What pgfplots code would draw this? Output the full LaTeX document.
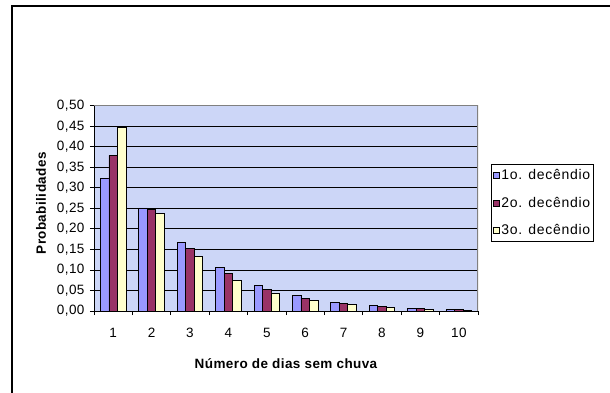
\documentclass[border=0pt]{standalone}
\usepackage{fontspec}
\setmainfont{Liberation Sans}
\usepackage{pgfplots}
\usepackage{pgfplotstable}
\pgfplotsset{compat=1.18}

\definecolor{serieA}{RGB}{153,153,255}
\definecolor{serieB}{RGB}{153,51,102}
\definecolor{serieC}{RGB}{255,255,204}
\definecolor{fundo}{RGB}{204,214,247}
\definecolor{moldura}{RGB}{128,128,128}

\newcommand\fonte{\fontsize{13.5}{16}\selectfont\addfontfeatures{LetterSpace=3}}
\newcommand\fontelegenda{\fontsize{14}{16}\selectfont\addfontfeatures{LetterSpace=5}}

% probabilidades por numero de dias sem chuva, para cada decendio
\pgfplotstableread{
dias  d1     d2     d3
1     0.322  0.379  0.446
2     0.251  0.248  0.237
3     0.168  0.152  0.133
4     0.107  0.091  0.075
5     0.063  0.053  0.044
6     0.038  0.031  0.025
7     0.021  0.019  0.015
8     0.013  0.010  0.009
9     0.007  0.006  0.004
10    0.003  0.003  0.002
}\dados

\begin{document}
\begin{tikzpicture}
\path[fill=white] (0pt,0pt) rectangle (610pt,392pt);
\useasboundingbox (0pt,0pt) rectangle (610pt,392pt);
% moldura da area do grafico
\draw[line width=1.3pt,black] (12pt,-2pt) -- (12pt,386pt) -- (613pt,386pt);

\begin{axis}[
  at={(94pt,81pt)}, anchor=south west,
  scale only axis, width=384pt, height=205.3pt,
  xmin=0.5, xmax=10.5, ymin=0, ymax=0.5,
  ybar=0pt, bar width=8.5pt,
  axis background/.style={fill=fundo},
  axis line style={draw=none},
  xtick={1,...,10},
  major x tick style={draw=none},
  minor xtick={0.5,1.5,2.5,3.5,4.5,5.5,6.5,7.5,8.5,9.5,10.5},
  ytick={0,0.05,0.10,0.15,0.20,0.25,0.30,0.35,0.40,0.45,0.50},
  xtick pos=bottom, ytick pos=left,
  tick align=outside, major tick length=4pt, minor tick length=4pt,
  tick style={black, line width=0.8pt},
  ymajorgrids, grid style={black, line width=0.8pt},
  /pgf/number format/assume math mode=true,
  yticklabel style={/pgf/number format/use comma, /pgf/number format/fixed,
    /pgf/number format/fixed zerofill, /pgf/number format/precision=2, xshift=-2pt},
  ticklabel style={font=\fonte},
  xticklabel style={yshift=-10pt},
  xlabel={Número de dias sem chuva},
  xlabel style={at={(rel axis cs:0.5,0)}, anchor=center, yshift=-53pt,
    font=\fonte\bfseries},
  ylabel={Probabilidades},
  ylabel style={at={(rel axis cs:0,0.5)}, anchor=center, yshift=53pt, xshift=5pt,
    font=\fonte\bfseries},
  legend style={at={(1.0346,0.716)}, anchor=north west, draw=black, fill=white,
    line width=0.8pt, font=\fontelegenda,
    inner xsep=1pt, inner ysep=3pt, row sep=12pt,
    /tikz/every even column/.append style={column sep=0pt}},
  legend cell align=left,
  legend image code/.code={\draw[#1,draw=black,line width=0.8pt] (0pt,-3pt) rectangle (6pt,3pt);},
  every axis plot/.append style={draw=black, line width=0.8pt},
]
\addplot[fill=serieA] table[x=dias,y=d1] {\dados};
\addplot[fill=serieB] table[x=dias,y=d2] {\dados};
\addplot[fill=serieC] table[x=dias,y=d3] {\dados};
\legend{1o. decêndio, 2o. decêndio, 3o. decêndio}
\draw[moldura, line width=1.2pt] (rel axis cs:0,1) -- (rel axis cs:1,1) -- (rel axis cs:1,0);
\draw[black, line width=0.9pt] (rel axis cs:0,1) -- (rel axis cs:0,0) -- (rel axis cs:1,0);
\end{axis}
\end{tikzpicture}
\end{document}
